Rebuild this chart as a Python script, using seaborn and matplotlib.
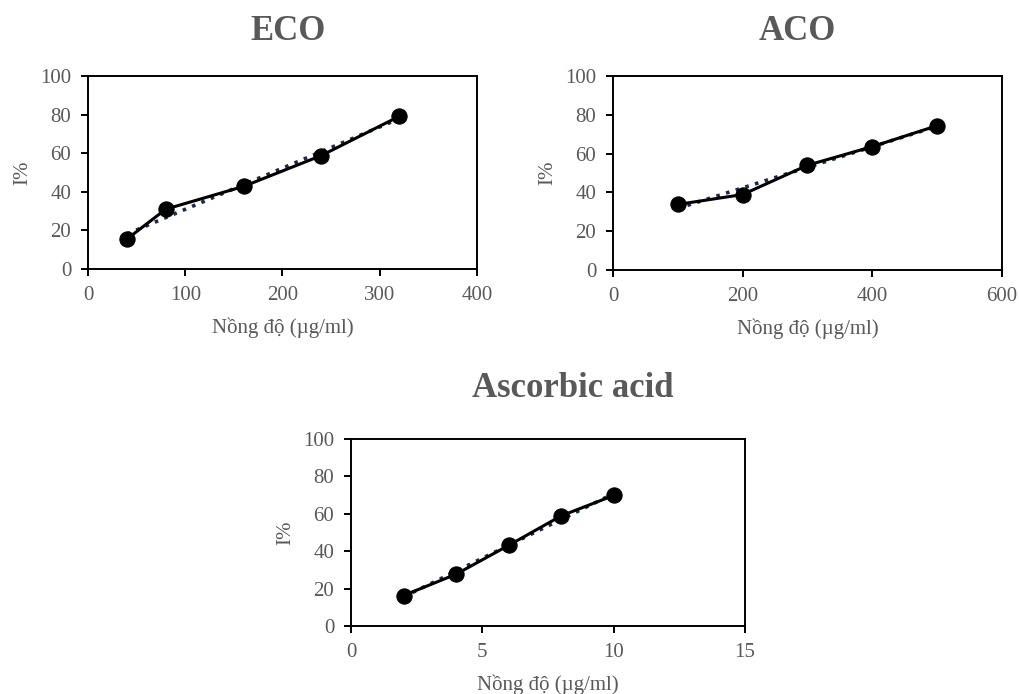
import numpy as np
import pandas as pd
import matplotlib.pyplot as plt
import seaborn as sns

# data
eco_conc = [40, 80, 160, 240, 320]
eco_inh = [15.5, 31.0, 42.8, 58.8, 79.1]

aco_conc = [100, 200, 300, 400, 500]
aco_inh = [33.8, 38.9, 54.0, 63.6, 74.4]

asc_conc = [2, 4, 6, 8, 10]
asc_inh = [16.3, 27.7, 43.1, 58.9, 69.8]

titles = ['ECO', 'ACO', 'Ascorbic acid']
xlims = [(0, 400), (0, 600), (0, 15)]
xticks = [[0, 100, 200, 300, 400], [0, 200, 400, 600], [0, 5, 10, 15]]

sns.set_style('white')
plt.rcParams['font.family'] = ['Liberation Serif', 'DejaVu Serif']
grey = '#595959'

W, H = 1020, 694
fig = plt.figure(figsize=(W / 100, H / 100), dpi=100)

# axes boxes in pixels: left, top, right, bottom
boxes = [(88, 76, 477, 269), (613, 76, 1002, 270), (351, 439, 745, 626)]
title_pos = [(288, 31), (797, 31), (573, 389)]

series = [(eco_conc, eco_inh), (aco_conc, aco_inh), (asc_conc, asc_inh)]

for (l, t, r, b), (tx, ty), (xs, ys), title, xl, xt in zip(boxes, title_pos, series, titles, xlims, xticks):
    ax = fig.add_axes([l / W, 1 - b / H, (r - l) / W, (b - t) / H])
    df = pd.DataFrame({'conc': xs, 'inh': ys})
    # linear trendline (dotted) like the spreadsheet one
    sns.regplot(data=df, x='conc', y='inh', ax=ax, scatter=False, ci=None,
                line_kws=dict(color='#1f2a44', linestyle=(0, (1, 1.8)), linewidth=2.6))
    sns.lineplot(data=df, x='conc', y='inh', ax=ax, color='black', linewidth=2.2,
                 marker='o', markersize=11, markeredgecolor='black', markerfacecolor='black')
    ax.set_xlim(xl)
    ax.set_xticks(xt)
    ax.set_ylim(0, 100)
    ax.set_yticks(range(0, 101, 20))
    for s in ax.spines.values():
        s.set_color('black')
        s.set_linewidth(1.4)
    ax.tick_params(axis='both', direction='out', length=5, width=1.4, color='black',
                   labelsize=15, labelcolor=grey, bottom=True, left=True, pad=7)
    ax.set_xlabel('Nồng độ (µg/ml)', fontsize=15, color=grey, labelpad=9)
    ax.set_ylabel('I%', fontsize=15, color=grey, labelpad=6)
    fig.text(tx / W, 1 - ty / H, title, fontsize=25, fontweight='bold', color=grey,
             ha='center', va='center')

fig.savefig('out.png', dpi=100)
